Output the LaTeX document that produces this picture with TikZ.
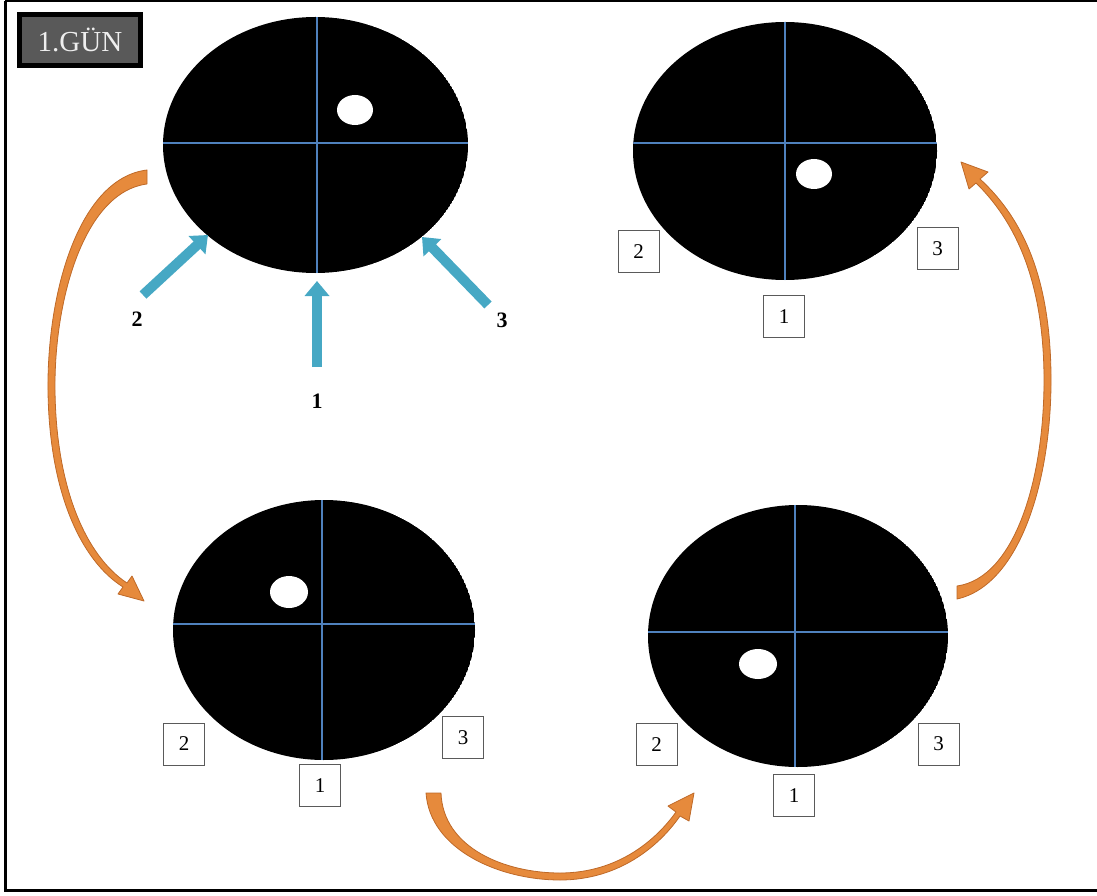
\documentclass[tikz,border=0pt]{standalone}
\usepackage{fontspec}
\setmainfont{Liberation Serif}
\usetikzlibrary{arrows.meta}
\definecolor{diskline}{RGB}{79,129,189}
\definecolor{blarrow}{RGB}{70,168,196}
\definecolor{orfill}{RGB}{230,138,60}
\definecolor{ordraw}{RGB}{190,105,40}
\definecolor{tagbg}{RGB}{89,89,89}
\definecolor{tagtext}{RGB}{238,238,238}
\definecolor{boxline}{RGB}{90,90,90}
\begin{document}
\begin{tikzpicture}[x=1pt,y=-1pt,
  cross/.style={draw=diskline,line width=2.8pt},
  hole/.style={fill=white},
  numbox/.style={draw=boxline,line width=0.9pt,minimum width=41pt,minimum height=42pt,inner sep=0pt,font=\fontsize{21}{21}\selectfont},
  numlbl/.style={font=\bfseries\fontsize{22}{22}\selectfont,inner sep=0pt},
  bluearrow/.style={draw=blarrow,line width=10pt,-{Triangle[width=24pt,length=15pt]}},
  orarrow/.style={fill=orfill,draw=ordraw,line width=0.8pt,line join=round}
]
\useasboundingbox (0,0) rectangle (1097,896);
% frame
\draw[line width=3pt] (5,1) -- (1110,1);
\draw[line width=3pt] (5,1) -- (5,890) -- (1110,890);

% tag
\node[draw=black,line width=5pt,fill=tagbg,minimum width=121pt,minimum height=51pt,inner sep=0pt,
  text=tagtext,font=\fontsize{29}{29}\selectfont] (tag) at (80,40) {1.GÜN};

% disk 1 (top-left)
\begin{scope}
\clip (315.5,145) ellipse [x radius=152.5, y radius=128];
\fill (315.5,145) ellipse [x radius=152.5, y radius=128];
\draw[cross] (150,143) -- (480,143);
\draw[cross] (317,10) -- (317,280);
\end{scope}
\fill[hole] (355,110) ellipse [x radius=18, y radius=15];

% disk 2 (top-right)
\begin{scope}
\clip (785,151) ellipse [x radius=152, y radius=129];
\fill (785,151) ellipse [x radius=152, y radius=129];
\draw[cross] (620,143) -- (950,143);
\draw[cross] (785,10) -- (785,290);
\end{scope}
\fill[hole] (814,174) ellipse [x radius=18, y radius=15];

% disk 3 (bottom-left)
\begin{scope}
\clip (324,630) ellipse [x radius=151, y radius=130];
\fill (324,630) ellipse [x radius=151, y radius=130];
\draw[cross] (160,624) -- (490,624);
\draw[cross] (322,490) -- (322,770);
\end{scope}
\fill[hole] (289,592) ellipse [x radius=19, y radius=16];

% disk 4 (bottom-right)
\begin{scope}
\clip (798,636) ellipse [x radius=150, y radius=131];
\fill (798,636) ellipse [x radius=150, y radius=131];
\draw[cross] (640,632) -- (960,632);
\draw[cross] (795,495) -- (795,780);
\end{scope}
\fill[hole] (758,664) ellipse [x radius=19, y radius=15];

% number boxes
\node[numbox] (tr2) at (638.5,251.5) {2};
\node[numbox] (tr3) at (937.5,248.5) {3};
\node[numbox] (tr1) at (784,316.5) {1};
\node[numbox] (bl2) at (184,744) {2};
\node[numbox] (bl3) at (463,737.5) {3};
\node[numbox] (bl1) at (320,785.5) {1};
\node[numbox] (br2) at (656.5,744.5) {2};
\node[numbox] (br3) at (938.5,744) {3};
\node[numbox] (br1) at (794,795.5) {1};

% blue arrows
\coordinate (a2t) at (143,295);
\coordinate (a2h) at (208,235);
\coordinate (a3t) at (488,305);
\coordinate (a3h) at (422,237);
\coordinate (a1t) at (317,367);
\coordinate (a1h) at (317,281);
\draw[bluearrow] (a2t) -- (a2h);
\draw[bluearrow] (a3t) -- (a3h);
\draw[bluearrow] (a1t) -- (a1h);
\node[numlbl] (l2) at (137,319) {2};
\node[numlbl] (l3) at (502,320) {3};
\node[numlbl] (l1) at (317,401) {1};

% orange curved arrows
\path[orarrow] (147,170) .. controls (80,178) and (47,290) .. (48,390)
  .. controls (49,490) and (80,560) .. (123,587)
  -- (118,594) -- (144,601) -- (132,576) -- (127,583)
  .. controls (86,556) and (56,488) .. (55,390)
  .. controls (54,300) and (84,192) .. (147,184) -- cycle;

\path[orarrow] (957,599) .. controls (1020,585) and (1052,480) .. (1051,375)
  .. controls (1050,290) and (1030,225) .. (980,179)
  -- (988,172) -- (961,162) -- (969,189) -- (976,183)
  .. controls (1022,228) and (1043,292) .. (1044,375)
  .. controls (1045,478) and (1015,578) .. (957,586) -- cycle;

\path[orarrow] (426,793) .. controls (430,850) and (500,880) .. (560,880)
  .. controls (620,880) and (660,845) .. (680,816)
  -- (689,821) -- (694,793) -- (668,806) -- (676,812)
  .. controls (656,840) and (618,873) .. (560,873)
  .. controls (505,873) and (443,848) .. (441,793) -- cycle;
\end{tikzpicture}
\end{document}
